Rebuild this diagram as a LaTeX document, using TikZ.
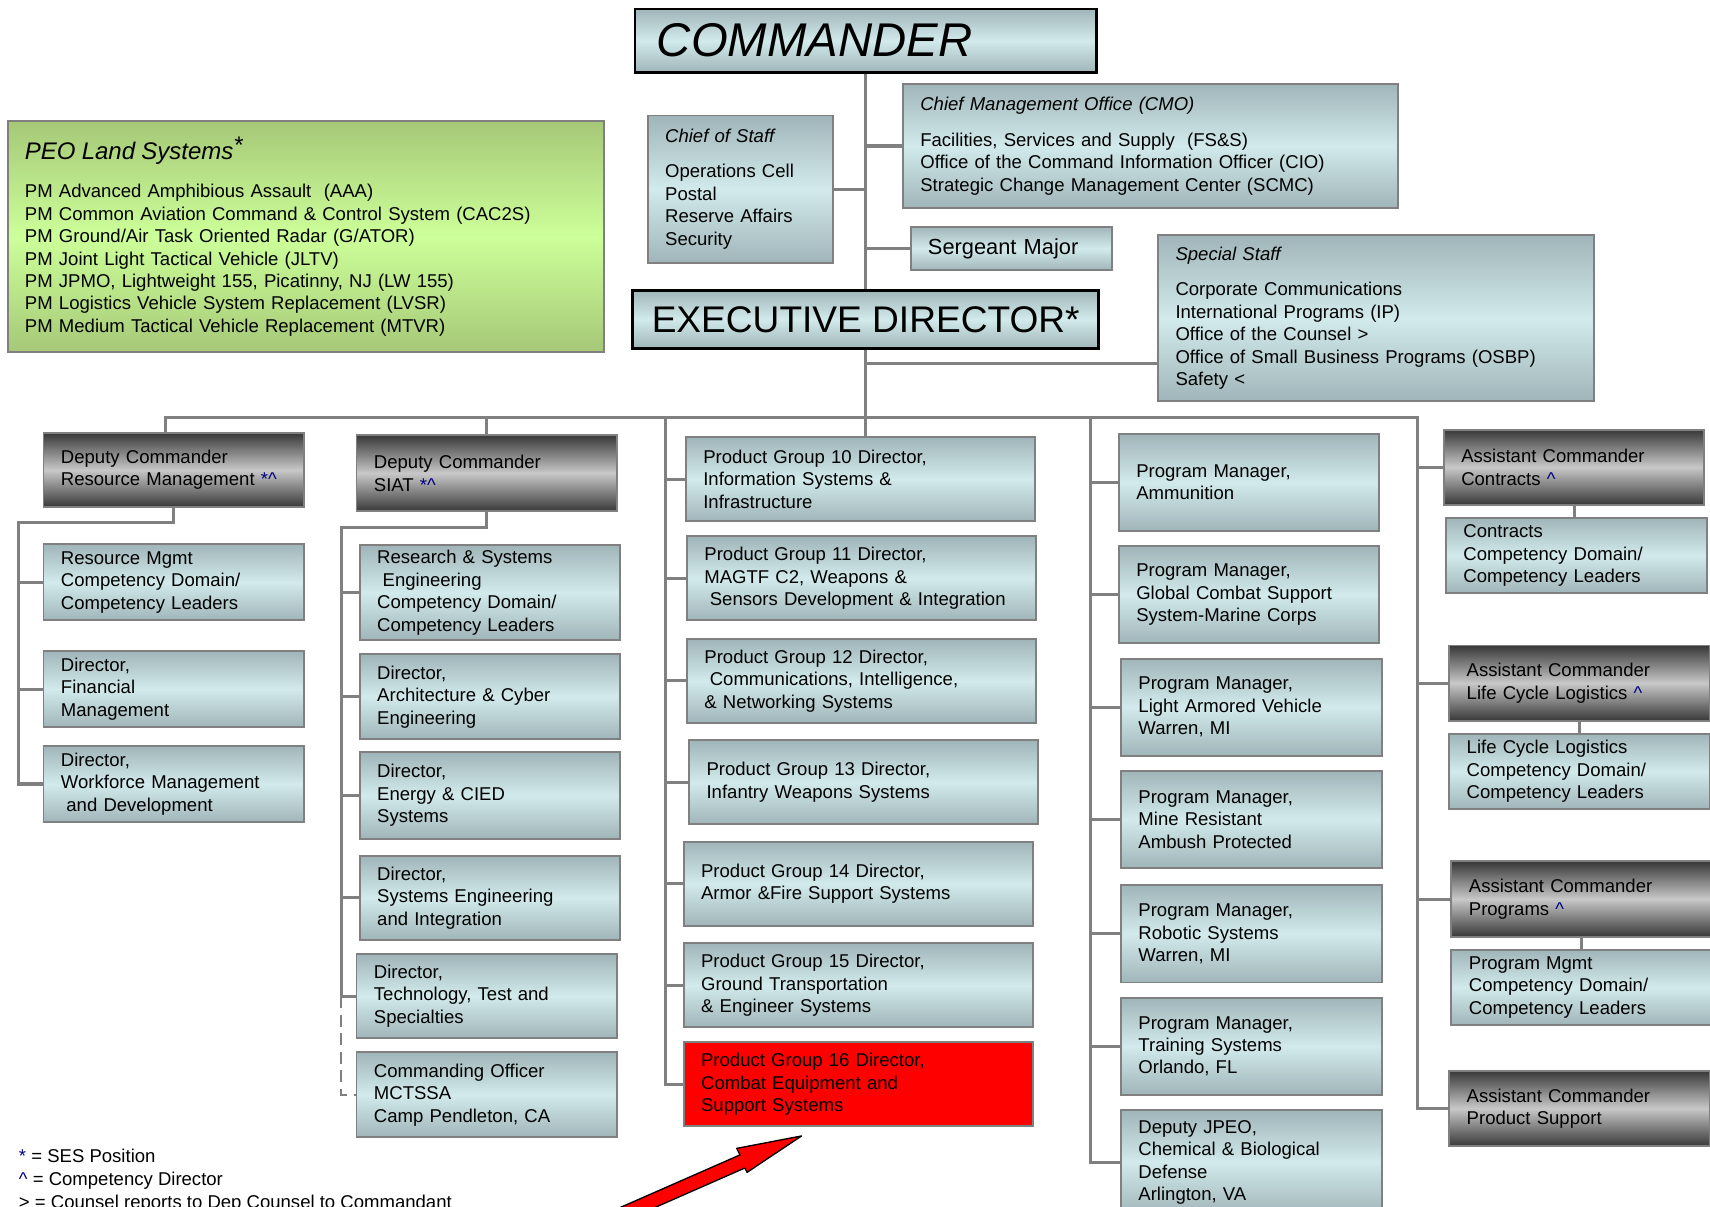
\documentclass[tikz,border=0pt]{standalone}
\usepackage{fontspec}
\setmainfont{Liberation Sans}
\usepackage{tikz}
\definecolor{tealtop}{RGB}{160,181,185}
\definecolor{tealmid}{RGB}{210,234,236}
\definecolor{greytop}{RGB}{56,56,56}
\definecolor{greymid}{RGB}{200,200,200}
\definecolor{greentop}{RGB}{166,200,120}
\definecolor{greenmid}{RGB}{204,255,153}
\definecolor{linegrey}{RGB}{128,128,128}
\definecolor{markblue}{RGB}{0,0,128}
\newcommand{\bodysize}{\fontsize{8.5}{10.3}\selectfont}
\newcommand{\mk}[1]{\textcolor{markblue}{#1}}
\newcommand{\caret}{\textasciicircum}

\begin{document}
\begin{tikzpicture}[x=0.5pt,y=-0.5pt,
  link/.style={draw=linegrey,line width=1.4pt},
  boxbase/.style={draw=linegrey,line width=0.9pt,anchor=north west,inner xsep=8pt,inner ysep=0pt,align=left,font=\bodysize},
  unit/.style={boxbase,top color=tealtop,bottom color=tealtop,middle color=tealmid},
  head/.style={boxbase,top color=greytop,bottom color=greytop,middle color=greymid},
  peo/.style={boxbase,top color=greentop,bottom color=greentop,middle color=greenmid},
  top/.style={unit,draw=black,line width=1.3pt},
  alert/.style={boxbase,fill=red},
  std/.style={text width=103.5pt,minimum height=#1},
  pgw/.style={text width=144pt,minimum height=38.5pt}]
\useasboundingbox (0,0) rectangle (1568,1106);

% command group
\node[top,text width=191.5pt,inner xsep=10pt,minimum height=29pt,font=\fontsize{21.7}{26}\selectfont\itshape] (cmd) at (581,7) {COMMANDER};
\node[top,minimum width=213.5pt,inner xsep=6pt,minimum height=26.5pt,font=\fontsize{17}{20}\selectfont] (ed) at (579,265) {EXECUTIVE DIRECTOR*};
\node[unit,text width=69pt,minimum height=67.5pt] (cos) at (593,105) {\textit{Chief of Staff}\\[6pt]Operations Cell\\Postal\\Reserve Affairs\\Security};
\node[unit,text width=211pt,minimum height=57pt] (cmo) at (827,76) {\textit{Chief Management Office (CMO)}\\[6pt]Facilities, Services and Supply~ (FS\&S)\\Office of the Command Information Officer (CIO)\\Strategic Change Management Center (SCMC)};
\node[unit,text width=76.5pt,minimum height=20pt,font=\fontsize{10}{12}\selectfont] (sgt) at (834,207) {Sergeant Major};
\node[unit,text width=184pt,minimum height=76pt] (ss) at (1061,215) {\textit{Special Staff}\\[6pt]Corporate Communications\\International Programs (IP)\\Office of the Counsel >\\Office of Small Business Programs (OSBP)\\Safety <};
\node[peo,text width=257.5pt,minimum height=106pt] (peo) at (6,110) {{\fontsize{11}{13}\selectfont\itshape PEO Land Systems\raisebox{3pt}{*}}\\[7pt]PM Advanced Amphibious Assault~ (AAA)\\PM Common Aviation Command \& Control System (CAC2S)\\PM Ground/Air Task Oriented Radar (G/ATOR)\\PM Joint Light Tactical Vehicle (JLTV)\\PM JPMO, Lightweight 155, Picatinny, NJ (LW 155)\\PM Logistics Vehicle System Replacement (LVSR)\\PM Medium Tactical Vehicle Replacement (MTVR)};

% resource management
\node[head,std=34pt] (dcrm) at (39,396) {Deputy Commander\\Resource Management \mk{*\caret}};
\node[unit,std=35pt] (rmcd) at (39,498) {Resource Mgmt\\Competency Domain/\\Competency Leaders};
\node[unit,std=35pt] (fin) at (39,596) {Director,\\Financial\\Management};
\node[unit,std=35pt] (wf) at (39,683) {Director,\\Workforce Management\\\hspace*{2.5pt}and Development};

% siat
\node[head,std=35pt] (dcsiat) at (326,398) {Deputy Commander\\SIAT \mk{*\caret}};
\node[unit,std=43.5pt] (rse) at (329,499) {Research \& Systems\\\hspace*{2.5pt}Engineering\\Competency Domain/\\Competency Leaders};
\node[unit,std=39pt] (arch) at (329,599) {Director,\\Architecture \& Cyber\\Engineering};
\node[unit,std=39.5pt] (energy) at (329,689) {Director,\\Energy \& CIED\\Systems};
\node[unit,std=38.5pt] (syseng) at (329,784) {Director,\\Systems Engineering\\and Integration};
\node[unit,std=38.5pt] (tech) at (326,874) {Director,\\Technology, Test and\\Specialties};
\node[unit,std=39pt] (mctssa) at (326,964) {Commanding Officer\\MCTSSA\\Camp Pendleton, CA};

% product groups
\node[unit,pgw] (pg10) at (628,400) {Product Group 10 Director,\\Information Systems \&\\Infrastructure};
\node[unit,pgw] (pg11) at (629,491) {Product Group 11 Director,\\MAGTF C2, Weapons \&\\\hspace*{2.5pt}Sensors Development \& Integration};
\node[unit,pgw] (pg12) at (629,585) {Product Group 12 Director,\\\hspace*{2.5pt}Communications, Intelligence,\\\& Networking Systems};
\node[unit,pgw] (pg13) at (631,678) {Product Group 13 Director,\\Infantry Weapons Systems};
\node[unit,pgw] (pg14) at (626,771) {Product Group 14 Director,\\Armor \&Fire Support Systems};
\node[unit,pgw] (pg15) at (626,864) {Product Group 15 Director,\\Ground Transportation\\\& Engineer Systems};
\node[alert,pgw] (pg16) at (626,955) {Product Group 16 Director,\\Combat Equipment and\\Support Systems};

% program managers
\node[unit,std=44.5pt] (ammo) at (1025,397) {Program Manager,\\Ammunition};
\node[unit,std=44.5pt] (gcss) at (1025,500) {Program Manager,\\Global Combat Support\\System-Marine Corps};
\node[unit,std=44.5pt] (lav) at (1027,603) {Program Manager,\\Light Armored Vehicle\\Warren, MI};
\node[unit,std=44.5pt] (mrap) at (1027,706) {Program Manager,\\Mine Resistant\\Ambush Protected};
\node[unit,std=44.5pt] (robot) at (1027,811) {Program Manager,\\Robotic Systems\\Warren, MI};
\node[unit,std=44.5pt] (train) at (1027,914) {Program Manager,\\Training Systems\\Orlando, FL};
\node[unit,std=48pt] (jpeo) at (1027,1017) {Deputy JPEO,\\Chemical \& Biological\\Defense\\Arlington, VA};

% assistant commanders
\node[head,std=34.5pt] (acc) at (1323,393) {Assistant Commander\\Contracts \mk{\caret}};
\node[unit,std=34.5pt] (ctr) at (1325,474) {Contracts\\Competency Domain/\\Competency Leaders};
\node[head,std=34.5pt] (aclcl) at (1328,591) {Assistant Commander\\Life Cycle Logistics \mk{\caret}};
\node[unit,std=34.5pt] (lcl) at (1328,672) {Life Cycle Logistics\\Competency Domain/\\Competency Leaders};
\node[head,std=34.5pt] (acprog) at (1330,789) {Assistant Commander\\Programs \mk{\caret}};
\node[unit,std=34.5pt] (pmg) at (1330,870) {Program Mgmt\\Competency Domain/\\Competency Leaders};
\node[head,std=34.5pt] (acps) at (1328,981) {Assistant Commander\\Product Support};

% legend
\node[anchor=base west,font=\bodysize,inner sep=0pt] (ses) at (17,1066) {\mk{*} = SES Position};
\node[anchor=base west,font=\bodysize,inner sep=0pt] (cd) at (17,1087) {\mk{\caret} = Competency Director};
\node[anchor=base west,font=\bodysize,inner sep=0pt] (cr) at (17,1108) {> = Counsel reports to Dep Counsel to Commandant};

% connectors
\coordinate (busL) at (152,383);
\coordinate (busR) at (1300,383);
\coordinate (pgtop) at (610,383);
\coordinate (pmtop) at (1000,383);
\coordinate (rmturn) at (17,479);
\coordinate (siatturn) at (313,484);
\coordinate (ssin) at (1061,333);
\draw[link] (cmd.south) -- (ed.north);
\draw[link] (ed.south) -- (ed.south |- pg10.north);
\draw[link] (cos.east) -- (cos.east -| ed.north);
\draw[link] (cmo.west) -- (cmo.west -| ed.north);
\draw[link] (sgt.west) -- (sgt.west -| ed.north);
\draw[link] (ssin) -- (ssin -| ed.south);
\draw[link] (dcrm.north -| busL) |- (busR) |- (acps.west);
\draw[link] (dcsiat.north) -- (dcsiat.north |- busR);
\draw[link] (dcrm.south) |- (rmturn) |- (wf.west);
\foreach \n in {rmcd,fin} \draw[link] (\n.west) -- (\n.west -| rmturn);
\draw[link] (dcsiat.south) |- (siatturn) |- (tech.west);
\foreach \n in {rse,arch,energy,syseng} \draw[link] (\n.west) -- (\n.west -| siatturn);
\draw[link,line width=1pt,dash pattern=on 5.5pt off 3pt] (tech.west -| siatturn) |- (mctssa.west);
\draw[link] (pgtop) |- (pg16.west);
\foreach \n in {pg10,pg11,pg12,pg13,pg14,pg15} \draw[link] (\n.west) -- (\n.west -| pgtop);
\draw[link] (pmtop) |- (jpeo.west);
\foreach \n in {ammo,gcss,lav,mrap,robot,train} \draw[link] (\n.west) -- (\n.west -| pmtop);
\foreach \n in {acc,aclcl,acprog} \draw[link] (\n.west) -- (\n.west -| busR);
\draw[link] (acc.south) -- (acc.south |- ctr.north);
\draw[link] (aclcl.south) -- (aclcl.south |- lcl.north);
\draw[link] (acprog.south) -- (acprog.south |- pmg.north);

% pointer
\filldraw[fill=red,draw=black,line width=0.6pt,line join=round](539.6,1120)--(678.5,1059)--(675.5,1053)--(735,1041.6)--(685,1075)--(683,1071)--(571.5,1120)--cycle;
\end{tikzpicture}
\end{document}
